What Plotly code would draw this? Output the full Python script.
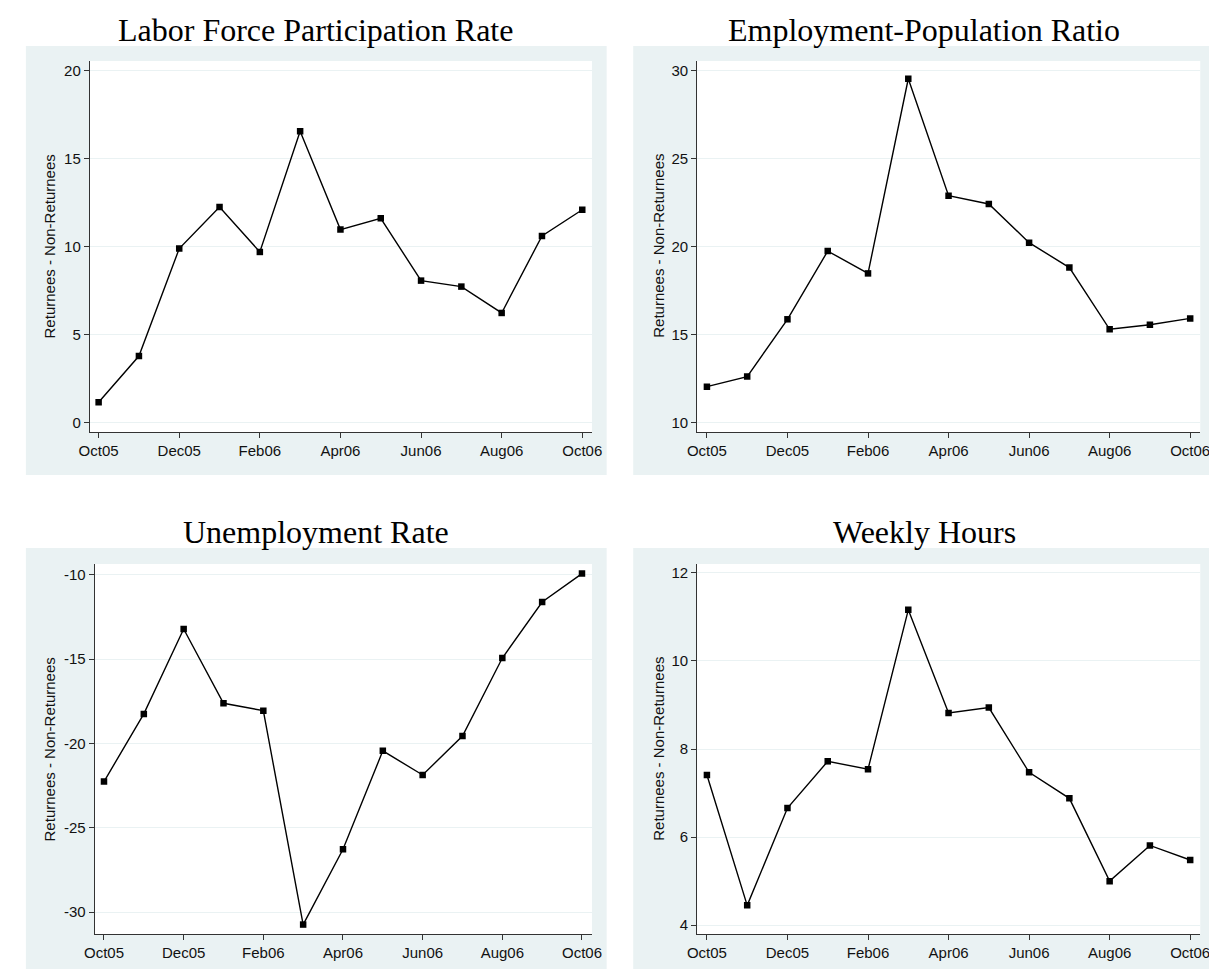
import plotly.graph_objects as go

months = ["Oct05", "Nov05", "Dec05", "Jan06", "Feb06", "Mar06", "Apr06",
          "May06", "Jun06", "Jul06", "Aug06", "Sep06", "Oct06"]
tick_labels = ["Oct05", "Dec05", "Feb06", "Apr06", "Jun06", "Aug06", "Oct06"]

lfpr = [1.14, 3.77, 9.88, 12.25, 9.69, 16.55, 10.96, 11.60, 8.06, 7.72, 6.22, 10.60, 12.09]
epop = [12.03, 12.60, 15.86, 19.74, 18.47, 29.54, 22.89, 22.42, 20.22, 18.80, 15.29, 15.55, 15.91]
unemp = [-22.26, -18.25, -13.22, -17.62, -18.06, -30.73, -26.27, -20.44, -21.87, -19.56, -14.94, -11.62, -9.94]
hours = [7.41, 4.45, 6.66, 7.72, 7.54, 11.16, 8.82, 8.94, 7.47, 6.88, 5.00, 5.81, 5.48]

titles = ["Labor Force Participation Rate", "Employment-Population Ratio",
          "Unemployment Rate", "Weekly Hours"]
y_title = "Returnees - Non-Returnees"
series = [lfpr, epop, unemp, hours]
y_ticks = [[0, 5, 10, 15, 20], [10, 15, 20, 25, 30],
           [-30, -25, -20, -15, -10], [4, 6, 8, 10, 12]]

W, H = 1217, 969
BG = "#eaf2f3"
AX = "#333333"

# pixel geometry: (plot left, plot right, plot top, plot bottom), bg box, title center
panels = [
    dict(plot=(72, 583, 53, 424), bg=(7, 598, 38, 467), title=(302, 22), ytitle=(31, 238),
         xr=[-0.22, 12.24], yr=[-0.55, 20.55]),
    dict(plot=(690, 1202, 53, 424), bg=(625, 1217, 38, 467), title=(921, 22), ytitle=(650, 238),
         xr=[-0.244, 12.25], yr=[9.45, 30.55]),
    dict(plot=(77, 583, 556, 926), bg=(7, 598, 540, 969), title=(302, 524), ytitle=(31, 741),
         xr=[-0.234, 12.25], yr=[-31.29, -9.37]),
    dict(plot=(690, 1202, 556, 926), bg=(625, 1217, 540, 969), title=(921, 524), ytitle=(650, 741),
         xr=[-0.244, 12.25], yr=[3.80, 12.2]),
]

def px(x):
    return x / W

def py(y):
    return 1 - y / H

fig = go.Figure()
shapes = []
annotations = []
xidx = list(range(len(months)))
for i, (p, vals) in enumerate(zip(panels, series)):
    n = "" if i == 0 else str(i + 1)
    fig.add_trace(go.Scatter(
        x=xidx, y=vals, mode="lines+markers",
        line=dict(color="black", width=1.4),
        marker=dict(symbol="square", size=6.5, color="black"),
        xaxis="x" + n, yaxis="y" + n, showlegend=False,
        text=months, hovertemplate="%{text}: %{y}<extra></extra>"))
    l, r, t, b = p["plot"]
    fig.layout["xaxis" + n] = dict(
        domain=[px(l), px(r)], anchor="y" + n, range=p["xr"],
        tickmode="array", tickvals=list(range(0, 13, 2)), ticktext=tick_labels,
        ticks="outside", ticklen=5, tickcolor=AX, showline=True, linecolor=AX,
        linewidth=1, showgrid=False, zeroline=False,
        tickfont=dict(family="Liberation Sans, Arial", size=15, color="#111111"))
    fig.layout["yaxis" + n] = dict(
        domain=[py(b), py(t)], anchor="x" + n, range=p["yr"],
        tickmode="array", tickvals=y_ticks[i], ticktext=[str(v) for v in y_ticks[i]],
        ticks="outside", ticklen=5, tickcolor=AX, showline=True, linecolor=AX,
        linewidth=1, showgrid=True, gridcolor=BG, gridwidth=1, zeroline=False,
        tickfont=dict(family="Liberation Sans, Arial", size=15, color="#111111"))
    bl, br, bt, bb = p["bg"]
    shapes.append(dict(type="rect", xref="paper", yref="paper",
                       x0=px(bl), x1=px(br), y0=py(bb), y1=py(bt),
                       fillcolor=BG, line=dict(width=0), layer="below"))
    shapes.append(dict(type="rect", xref="paper", yref="paper",
                       x0=px(l), x1=px(r), y0=py(b), y1=py(t),
                       fillcolor="white", line=dict(width=0), layer="below"))
    tx, ty = p["title"]
    annotations.append(dict(text=titles[i], xref="paper", yref="paper",
                            x=px(tx), y=py(ty), xanchor="center", yanchor="middle",
                            showarrow=False,
                            font=dict(family="Liberation Serif, Times New Roman", size=32, color="black")))
    ax_, ay_ = p["ytitle"]
    annotations.append(dict(text=y_title, xref="paper", yref="paper",
                            x=px(ax_), y=py(ay_), xanchor="center", yanchor="middle",
                            textangle=-90, showarrow=False,
                            font=dict(family="Liberation Sans, Arial", size=15, color="#111111")))

fig.update_layout(
    width=W, height=H, margin=dict(l=0, r=0, t=0, b=0),
    paper_bgcolor="white", plot_bgcolor="white",
    shapes=shapes, annotations=annotations)

fig.write_html("out.html")
